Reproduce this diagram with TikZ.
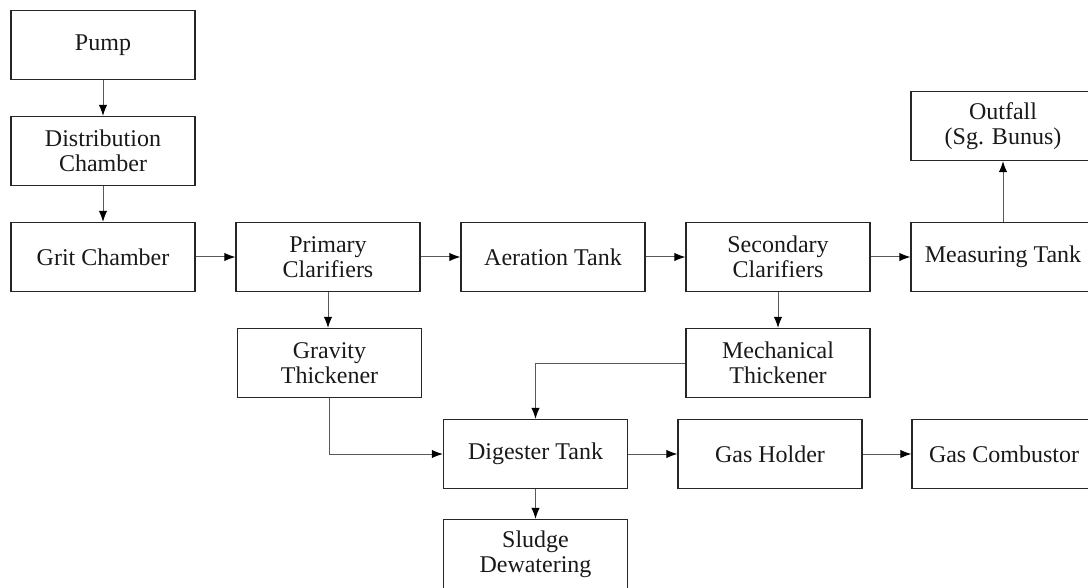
\documentclass[tikz,border=0pt]{standalone}
\usepackage{fontspec}
\setmainfont{Liberation Serif}
\usetikzlibrary{arrows.meta}

\begin{document}
\begin{tikzpicture}[x=1pt, y=-1pt,
  box/.style={draw=black!85, line width=1.3pt, minimum width=184pt, minimum height=69pt,
    inner sep=0pt, align=center, text=black!90, font=\fontsize{24}{25}\selectfont},
  flow/.style={draw=black!65, line width=1pt, -{Latex[length=11pt,width=8.5pt,color=black]}}]
  \useasboundingbox (0,0) rectangle (1088,588);
  % Inlet
  \node[box] (pump) at (103,45) {Pump};
  \node[box] (dist) at (103,151) {Distribution\\Chamber};
  % Main line
  \node[box] (grit) at (103,257) {Grit Chamber};
  \node[box] (prim) at (328,257) {Primary\\Clarifiers};
  \node[box] (aer)  at (553,257) {Aeration Tank};
  \node[box] (sec)  at (778,257) {Secondary\\Clarifiers};
  \node[box] (meas) at (1003,257) {Measuring Tank};
  \node[box] (outf) at (1003,126) {Outfall\\(Sg. Bunus)};
  % Sludge line
  \node[box] (grav) at (329.5,363) {Gravity\\Thickener};
  \node[box] (mech) at (778,363) {Mechanical\\Thickener};
  \node[box] (dig)  at (535.5,454) {Digester Tank};
  \node[box] (gash) at (770,454) {Gas Holder};
  \node[box] (gasc) at (1004,454) {Gas Combustor};
  \node[box] (slud) at (535.5,554) {Sludge\\Dewatering};

  % Arrows
  \draw[flow] (pump) -- (dist);
  \draw[flow] (dist) -- (grit);
  \foreach \a/\b in {grit/prim, prim/aer, aer/sec, sec/meas, dig/gash, gash/gasc} {
    \draw[flow] (\a) -- (\b);
  }
  \draw[flow] (meas) -- (outf);
  \draw[flow] (prim.south) -- (prim.south |- grav.north);
  \draw[flow] (sec) -- (mech);
  \draw[flow] (mech.west) -| (dig.north);
  \draw[flow] (grav.south) |- (dig.west);
  \draw[flow] (dig) -- (slud);
\end{tikzpicture}
\end{document}
